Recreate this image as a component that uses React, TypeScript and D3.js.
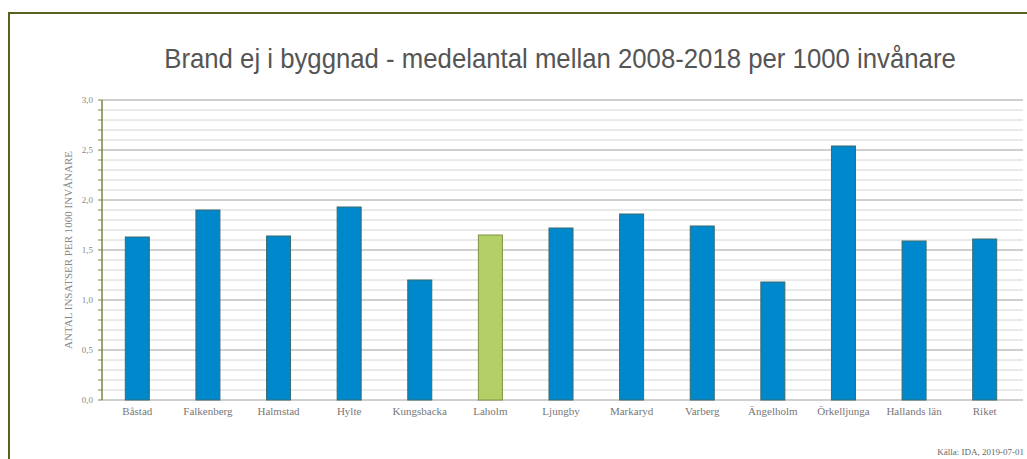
import React from 'react';
import * as d3 from 'd3';

const categories = ['Båstad', 'Falkenberg', 'Halmstad', 'Hylte', 'Kungsbacka', 'Laholm', 'Ljungby', 'Markaryd', 'Varberg', 'Ängelholm', 'Örkelljunga', 'Hallands län', 'Riket'];
const values = [1.63, 1.90, 1.64, 1.93, 1.20, 1.65, 1.72, 1.86, 1.74, 1.18, 2.54, 1.59, 1.61];
const highlight = 'Laholm';
const majorTicks = [0, 0.5, 1, 1.5, 2, 2.5, 3];

const W = 1027, H = 459;
const margin = { left: 102, right: 5, top: 100, bottom: 59 };

export default function App() {
    const x = d3.scaleBand()
                .domain(categories)
                .range([margin.left, 1020])
                .paddingInner(0.66)
                .paddingOuter(0.33);
    const y = d3.scaleLinear()
                .domain([0, 3])
                .range([H - margin.bottom, margin.top]);
    const minor = d3.range(0, 31).map((i) => i / 10);
    const fmt = (v) => d3.format('.1f')(v).replace('.', ',');

    return (
        <svg width={W} height={H} style={{ position: 'absolute', left: 0, top: 0 }}>
            <rect x={0} y={0} width={W} height={H} fill="#fff" />
            <rect x={9} y={13} width={W + 20} height={H + 20} fill="none" stroke="#56621f" strokeWidth={2} />
            <text x={560} y={68} textAnchor="middle" fontFamily="Liberation Sans, Arial" fontSize={28} fill="#555"
                  transform="translate(560,68) scale(0.92,1) translate(-560,-68)">
                Brand ej i byggnad - medelantal mellan 2008-2018 per 1000 invånare
            </text>
            {minor.map((v, i) => (
                <g key={`g-${i}`}>
                    <line x1={margin.left} x2={1023} y1={y(v)} y2={y(v)}
                          stroke={i % 5 === 0 ? '#a0a0a0' : '#d4d4d4'} strokeWidth={1} />
                    <line x1={margin.left - 4} x2={margin.left} y1={y(v)} y2={y(v)} stroke="#7d8544" strokeWidth={1} />
                </g>
            ))}
            <line x1={margin.left} x2={margin.left} y1={y(0)} y2={y(3)} stroke="#7d8544" strokeWidth={1.5} />
            {majorTicks.map((v) => (
                <text key={`t-${v}`} x={margin.left - 9} y={y(v) + 3} textAnchor="end"
                      fontFamily="Liberation Serif, Times New Roman" fontSize={9} fill="#888">{fmt(v)}</text>
            ))}
            <text transform={`translate(72,${y(1.5)}) rotate(-90)`} textAnchor="middle"
                  fontFamily="Liberation Serif, Times New Roman" fontSize={11} fill="#888">
                ANTAL INSATSER PER 1000 INVÅNARE
            </text>
            {categories.map((c, i) => (
                <rect key={`b-${c}`} x={x(c)} y={y(values[i])} width={x.bandwidth()} height={y(0) - y(values[i])}
                      fill={c === highlight ? '#b4cf66' : '#0088cc'} stroke={c === highlight ? '#7e9444' : '#3c6b70'} strokeWidth={1} />
            ))}
            {categories.map((c) => (
                <text key={`l-${c}`} x={x(c) + x.bandwidth() / 2} y={y(0) + 15} textAnchor="middle"
                      fontFamily="Liberation Serif, Times New Roman" fontSize={11} fill="#777">{c}</text>
            ))}
            <text x={1024} y={455} textAnchor="end" fontFamily="Liberation Serif, Times New Roman" fontSize={9} fill="#666">
                Källa: IDA, 2019-07-01
            </text>
        </svg>
    );
}
